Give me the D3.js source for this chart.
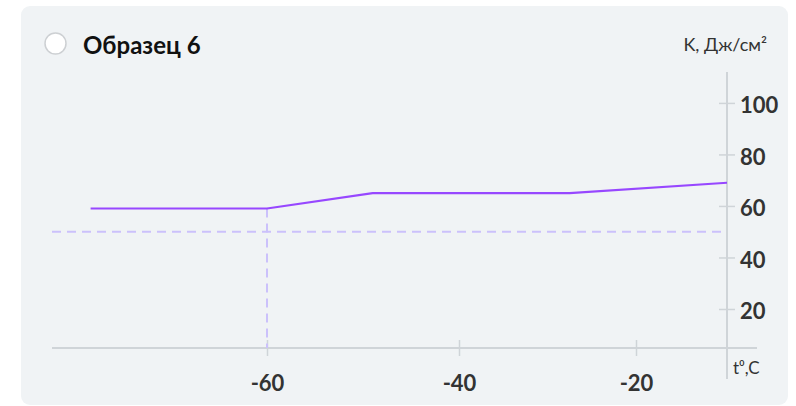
<!DOCTYPE html>
<html><head><meta charset="utf-8">
<script src="https://cdn.jsdelivr.net/npm/d3@7"></script>
<style>
html,body{margin:0;padding:0;background:#fff;}
svg{display:block;font-family:Lato,"Open Sans",sans-serif;}
</style></head>
<body>
<svg id="c" width="796" height="406"></svg>
<script>
const title = "Образец 6";
const yTitle = "K, Дж/см²";
const xTitle = "t⁰,C";
const temps = [-78, -60, -49, -27.5, -10];
const kValues = [59, 59, 65, 65, 69];
const xTicks = [-60, -40, -20];
const yTicks = [20, 40, 60, 80, 100];
const thresholdK = 50;
const markerTemp = -60;

const svg = d3.select("#c");
svg.append("rect").attr("x",21).attr("y",6).attr("width",767).attr("height",399).attr("rx",9).attr("fill","#f0f3f5");

const x = d3.scaleLinear().domain([-80,-60,-40,-20,-10]).range([71,267,459,636,727]);
const y = d3.scaleLinear().domain([0,112]).range([360.5,72]);
const axisY = 348, axisX = 727;
const gridCol = "#cfd4d8";
const font = "Lato, 'Open Sans', sans-serif";

// radio + title
svg.append("circle").attr("cx",55.5).attr("cy",43.5).attr("r",10.5).attr("fill","#fff").attr("stroke","#cdd0d3").attr("stroke-width",1.5);
svg.append("text").attr("x",83).attr("y",54).attr("font-size",24).attr("font-weight",700).attr("fill","#111").text(title);
svg.append("text").attr("x",767).attr("y",51).attr("text-anchor","end").attr("font-size",18).attr("fill","#333").text(yTitle);

// axes lines
svg.append("line").attr("x1",52).attr("x2",757).attr("y1",axisY).attr("y2",axisY).attr("stroke",gridCol).attr("stroke-width",2);
svg.append("line").attr("x1",axisX).attr("x2",axisX).attr("y1",72).attr("y2",379).attr("stroke",gridCol).attr("stroke-width",2);

// x axis ticks
const xa = svg.append("g").attr("transform",`translate(0,${axisY})`)
  .call(d3.axisBottom(x).tickValues(xTicks).tickSize(8).tickFormat(d=>d));
xa.select(".domain").remove();
xa.selectAll(".tick line").attr("y1",-8).attr("y2",8).attr("stroke",gridCol).attr("stroke-width",1.5);
xa.selectAll(".tick text").attr("y",43).attr("dy",0).attr("font-size",22).attr("font-weight",700).attr("fill","#333").attr("font-family",font);

// y axis ticks
const ya = svg.append("g").attr("transform",`translate(${axisX},0)`)
  .call(d3.axisRight(y).tickValues(yTicks).tickSize(8).tickFormat(d=>d));
ya.select(".domain").remove();
ya.selectAll(".tick line").attr("x1",-8).attr("x2",8).attr("stroke",gridCol).attr("stroke-width",1.5);
ya.selectAll(".tick text").attr("x",13).attr("dy","0.45em").attr("font-size",22).attr("font-weight",700).attr("fill","#333").attr("font-family",font);

svg.append("text").attr("x",733).attr("y",374).attr("font-size",17).attr("fill","#333").text(xTitle);

// dashed guides
const dashCol = "#cbc1fb";
svg.append("line").attr("x1",52).attr("x2",axisX).attr("y1",y(thresholdK)).attr("y2",y(thresholdK))
  .attr("stroke",dashCol).attr("stroke-width",2).attr("stroke-dasharray","9,6");
const mk = kValues[temps.indexOf(markerTemp)];
svg.append("line").attr("x1",x(markerTemp)).attr("x2",x(markerTemp)).attr("y1",y(mk)).attr("y2",axisY)
  .attr("stroke",dashCol).attr("stroke-width",2).attr("stroke-dasharray","9,6");

// data line
const data = temps.map((t,i)=>({t,k:kValues[i]}));
svg.append("path").datum(data).attr("fill","none").attr("stroke","#9747ff").attr("stroke-width",2.2)
  .attr("d", d3.line().x(d=>x(d.t)).y(d=>y(d.k)));
</script>
</body></html>
